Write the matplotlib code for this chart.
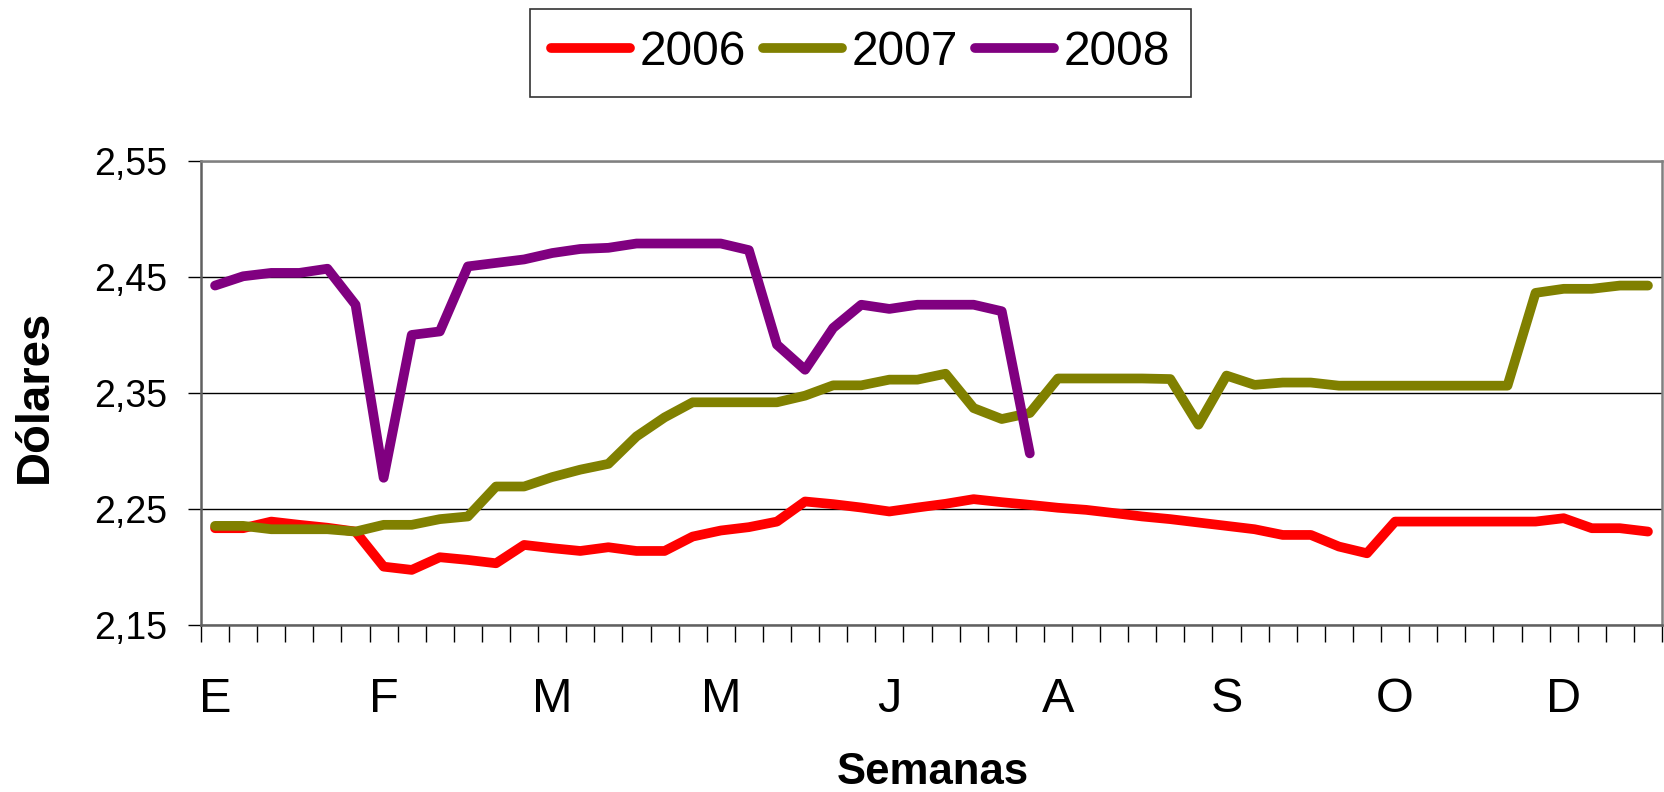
import matplotlib
matplotlib.use('Agg')
import matplotlib.pyplot as plt
import numpy as np

plt.rcParams['font.family'] = ['Liberation Sans', 'DejaVu Sans']

# ---- data ----
weeks = list(range(1, 53))
month_labels = ['E', 'F', 'M', 'M', 'J', 'A', 'S', 'O', 'D']
label_every = 6

y2006 = [2.2336, 2.2336, 2.2393, 2.2365, 2.2340, 2.2307, 2.2005, 2.1977, 2.2086, 2.2063,
         2.2034, 2.2192, 2.2164, 2.2140, 2.2172, 2.2140, 2.2140, 2.2264, 2.2316, 2.2345,
         2.2393, 2.2566, 2.2543, 2.2514, 2.2480, 2.2514, 2.2546, 2.2586, 2.2560, 2.2537,
         2.2512, 2.2494, 2.2466, 2.2437, 2.2414, 2.2385, 2.2356, 2.2327, 2.2278, 2.2278,
         2.2178, 2.2120, 2.2393, 2.2393, 2.2393, 2.2393, 2.2393, 2.2393, 2.2422, 2.2336,
         2.2336, 2.2307]

y2007 = [2.2356, 2.2356, 2.2327, 2.2327, 2.2327, 2.2307, 2.2365, 2.2365, 2.2414, 2.2437,
         2.2695, 2.2695, 2.2776, 2.2840, 2.2890, 2.3126, 2.3290, 2.3420, 2.3420, 2.3420,
         2.3420, 2.3477, 2.3566, 2.3566, 2.3615, 2.3615, 2.3666, 2.3370, 2.3276, 2.3328,
         2.3625, 2.3625, 2.3625, 2.3625, 2.3620, 2.3227, 2.3650, 2.3570, 2.3590, 2.3590,
         2.3563, 2.3563, 2.3563, 2.3563, 2.3563, 2.3563, 2.3563, 2.4362, 2.4397, 2.4397,
         2.4425, 2.4425]

y2008 = [2.4425, 2.4505, 2.4534, 2.4534, 2.4570, 2.4260, 2.2770, 2.4000, 2.4030, 2.4590,
         2.4620, 2.4650, 2.4705, 2.4740, 2.4750, 2.4787, 2.4787, 2.4787, 2.4787, 2.4730,
         2.3916, 2.3700, 2.4060, 2.4260, 2.4224, 2.4260, 2.4260, 2.4260, 2.4204, 2.2980]

series_names = ['2006', '2007', '2008']
series_colors = ['#FF0000', '#808000', '#800080']

y_ticks = [2.15, 2.25, 2.35, 2.45, 2.55]
y_tick_labels = ['2,15', '2,25', '2,35', '2,45', '2,55']

# ---- figure ----
fig = plt.figure(figsize=(16.64, 7.92), dpi=100)
ax = fig.add_axes([201 / 1664, 1 - 625.3 / 792, (1662 - 201) / 1664, (625.3 - 160.7) / 792])

x = np.arange(len(weeks))
handles = []
for vals, name, col in zip([y2006, y2007, y2008], series_names, series_colors):
    h, = ax.plot(x[:len(vals)], vals, color=col, lw=7.0, solid_capstyle='round',
                 solid_joinstyle='round', label=name, zorder=3)
    handles.append(h)

ax.set_xlim(-0.5, len(weeks) - 0.5)
ax.set_ylim(y_ticks[0], y_ticks[-1])

ax.set_yticks(y_ticks)
ax.set_yticklabels(y_tick_labels)
ax.tick_params(axis='y', length=9.4, width=1, pad=15, labelsize=27, color='black')

ax.set_xticks(np.arange(-0.5, len(weeks), 1))
ax.set_xticklabels([])
ax.tick_params(axis='x', which='major', length=12, width=1, color='black')
ax.set_xticks(x[::label_every], minor=True)
ax.set_xticklabels(month_labels, minor=True)
ax.tick_params(axis='x', which='minor', length=0, pad=37, labelsize=35)

ax.yaxis.grid(True, color='black', lw=1.0)
ax.set_axisbelow(True)

for s in ['left', 'bottom']:
    ax.spines[s].set_color('#606060')
    ax.spines[s].set_linewidth(1.8)
for s in ['top', 'right']:
    ax.spines[s].set_color('#808080')
    ax.spines[s].set_linewidth(1.8)

fig.text(35 / 1664, 1 - 396 / 792, 'Dólares', rotation=90, fontweight='bold',
         fontsize=34, ha='center', va='center')
fig.text(933 / 1664, 1 - 772 / 792, 'Semanas', fontweight='bold',
         fontsize=31.5, ha='center', va='center')

leg = fig.legend(handles, series_names, loc='center',
                 bbox_to_anchor=(860.5 / 1664, 1 - 52.7 / 792), ncol=3, fontsize=34.5,
                 frameon=True, fancybox=False, edgecolor='black', handlelength=1.65,
                 handletextpad=0.2, columnspacing=0.35, borderpad=0.45,
                 borderaxespad=0)
leg.get_frame().set_linewidth(1.2)

fig.savefig('out.png', dpi=100, facecolor='white')
